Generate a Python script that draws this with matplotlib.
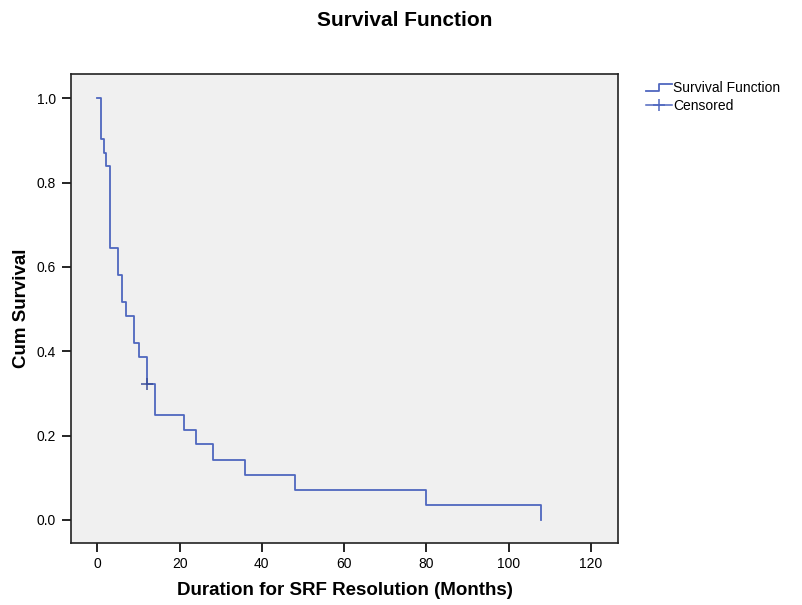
#!/usr/bin/env python
"""Kaplan-Meier survival function plot (SPSS style) for SRF resolution."""

import matplotlib

matplotlib.use("Agg")

import matplotlib.pyplot as plt
from matplotlib.legend_handler import HandlerBase
from matplotlib.lines import Line2D


# event times (months) and survival after each step
TIMES = [0, 1, 1.5, 2, 3, 5, 6, 7, 9, 10, 12, 14, 21, 24, 28, 36, 48, 80, 108]
SURVIVAL = [1.0, 0.903, 0.871, 0.839, 0.645, 0.581, 0.516, 0.484, 0.419, 0.387,
            0.323, 0.25, 0.214, 0.179, 0.143, 0.107, 0.071, 0.036, 0.0]
CENSOR_TIMES = [12]
CENSOR_SURV = [0.323]

X_TICKS = [0, 20, 40, 60, 80, 100, 120]
Y_TICKS = [0.0, 0.2, 0.4, 0.6, 0.8, 1.0]

LINE_COLOR = "#4f67bf"
FONT = ["Liberation Sans", "DejaVu Sans"]


class StepHandler(HandlerBase):
    """Small step-shaped legend key, like SPSS draws it."""

    def create_artists(self, legend, orig_handle, xdescent, ydescent,
                       width, height, fontsize, trans):
        x0, x1 = -xdescent, -xdescent + width
        y0, y1 = -ydescent + height * 0.15, -ydescent + height * 0.85
        xm = x0 + width * 0.5
        line = Line2D([x0, xm, xm, x1], [y0, y0, y1, y1],
                      color=orig_handle.get_color(), lw=orig_handle.get_linewidth())
        line.set_transform(trans)
        return [line]


def run():
    plt.rcParams["font.family"] = FONT
    fig = plt.figure(figsize=(8.03, 6.05), dpi=100)
    ax = fig.add_axes([0.088, 0.103, 0.682, 0.775])
    ax.set_facecolor("#f0f0f0")

    ax.step(TIMES, SURVIVAL, where="post", color=LINE_COLOR, lw=1.3)
    ax.plot(CENSOR_TIMES, CENSOR_SURV, linestyle="none", marker="+",
            markersize=8, markeredgewidth=1.1, color="#3c4f9a")

    ax.set_xlim(-6.5, 126.7)
    ax.set_ylim(-0.054, 1.058)
    ax.set_xticks(X_TICKS)
    ax.set_yticks(Y_TICKS)
    ax.set_yticklabels([f"{v:.1f}" for v in Y_TICKS])
    ax.tick_params(direction="out", length=6.5, width=1.2, labelsize=10,
                   colors="black", pad=4)
    for spine in ax.spines.values():
        spine.set_linewidth(1.2)
        spine.set_color("#222222")

    # axis titles placed in figure coordinates, SPSS puts them close to the ticks
    fig.text(0.429, 0.024, "Duration for SRF Resolution (Months)", ha="center",
             va="center", fontsize=13.5, fontweight="bold")
    fig.text(0.027, 0.49, "Cum Survival", ha="center", va="center",
             rotation=90, fontsize=13.5, fontweight="bold")
    fig.text(0.504, 0.966, "Survival Function", ha="center", va="center",
             fontsize=15, fontweight="bold")

    surv_key = Line2D([], [], color=LINE_COLOR, lw=1.3)
    cens_key = Line2D([], [], color=LINE_COLOR, lw=1.1, marker="+",
                      markersize=9, markeredgewidth=1.1)
    fig.legend([surv_key, cens_key], ["Survival Function", "Censored"],
               handler_map={surv_key: StepHandler()},
               loc="upper left", bbox_to_anchor=(0.797, 0.875),
               frameon=False, fontsize=10, handlelength=1.9,
               handletextpad=0.1, labelspacing=0.25, borderaxespad=0)

    fig.savefig("out.png", dpi=100)
    plt.close(fig)


if __name__ == "__main__":
    run()
